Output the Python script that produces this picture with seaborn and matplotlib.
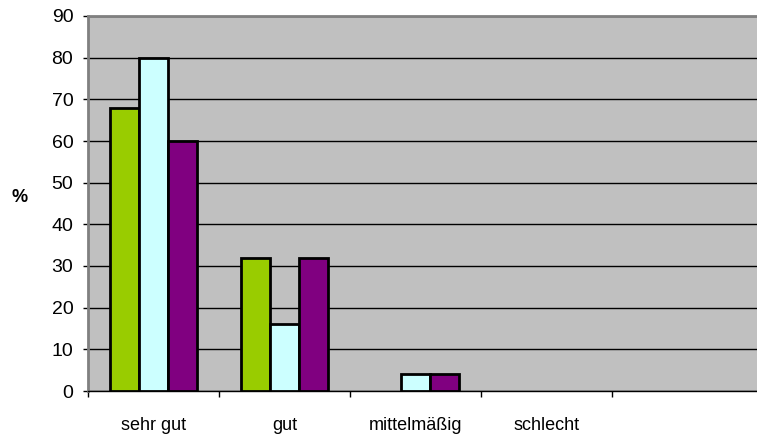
import pandas as pd
import seaborn as sns
import matplotlib.pyplot as plt
from matplotlib.ticker import FixedLocator

# Werte
kategorien = ["sehr gut", "gut", "mittelmäßig", "schlecht"]
gruppe_a = [68, 32, 0, 0]
gruppe_b = [80, 16, 4, 0]
gruppe_c = [60, 32, 4, 0]
gruppen = ["A", "B", "C"]
farben = ["#99CC00", "#CCFFFF", "#800080"]

df = pd.DataFrame({
    "Kategorie": kategorien * 3,
    "Gruppe": [g for g in gruppen for _ in kategorien],
    "Prozent": gruppe_a + gruppe_b + gruppe_c,
})

sns.set_style("white")
plt.rcParams["font.family"] = ["Liberation Sans", "DejaVu Sans"]

fig = plt.figure(figsize=(7.57, 4.37), dpi=100)
ax = fig.add_axes([88 / 757, 1 - 391 / 437, 1 - 88 / 757, 375 / 437])
ax.set_facecolor("#C0C0C0")

sns.barplot(data=df, x="Kategorie", y="Prozent", hue="Gruppe", palette=farben,
            width=0.66, saturation=1, edgecolor="black", linewidth=2,
            legend=False, ax=ax, zorder=3)

# leere Balken (Wert 0) nicht als Strich zeichnen
for p in ax.patches:
    if p.get_height() == 0:
        p.set_visible(False)

ax.set_ylim(0, 90)
ax.set_yticks(range(0, 91, 10))
ax.set_xlim(-0.5, -0.5 + 669 / 131)
ax.yaxis.grid(True, color="black", linewidth=1)
ax.set_axisbelow(True)

for s in ["left", "top"]:
    ax.spines[s].set_color("#808080")
    ax.spines[s].set_linewidth(2)
ax.spines["right"].set_visible(False)
ax.spines["bottom"].set_color("black")
ax.spines["bottom"].set_linewidth(1)

ax.tick_params(axis="y", length=3.6, width=1, color="black", labelsize=14,
               pad=7, left=True, labelcolor="black")
ax.tick_params(axis="x", which="major", length=0, labelsize=13, pad=19,
               labelcolor="black")
ax.xaxis.set_minor_locator(FixedLocator([-0.5, 0.5, 1.5, 2.5, 3.5]))
ax.tick_params(axis="x", which="minor", length=4.3, width=1, color="black",
               bottom=True)

ax.set_xlabel("")
ax.set_ylabel("")
fig.text(20 / 757, 1 - 197 / 437, "%", fontsize=13, fontweight="bold",
         ha="center", va="center", color="black")

plt.savefig("out.png", dpi=100)
